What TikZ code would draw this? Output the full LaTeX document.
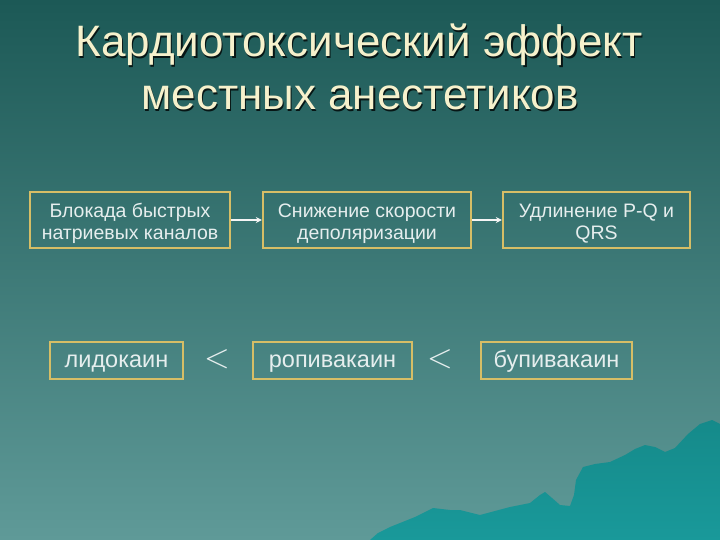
\documentclass[tikz,border=0pt]{standalone}
\usepackage{fontspec}
\usepackage{graphicx}
\setmainfont{Liberation Sans}
\usetikzlibrary{arrows.meta}
\definecolor{bgtop}{HTML}{1C5956}
\definecolor{bgbot}{HTML}{5F9A98}
\definecolor{titlecol}{HTML}{F6F1CC}
\definecolor{boxline}{HTML}{D6BE66}
\definecolor{txtcol}{HTML}{E6EEEE}
\definecolor{mount}{HTML}{19999A}
\definecolor{mountdark}{HTML}{158A8A}
\tikzset{
  box/.style={draw=boxline, line width=2.4pt, inner sep=0pt},
  boxtxt/.style={text=txtcol, align=center, inner sep=0pt, font=\fontsize{19.5}{22}\selectfont},
  drug/.style={draw=boxline, line width=2.4pt, text=txtcol, inner sep=0pt,
    text height=16pt, text depth=2pt, font=\fontsize{23.5}{26}\selectfont},
  arr/.style={draw=white!92!gray, line width=1.8pt, -{Stealth[length=6pt,width=6pt]}},
  lt/.style={text=txtcol, inner sep=0pt},
  ttl/.style={text=titlecol, font=\fontsize{44}{50}\selectfont, inner sep=0pt, anchor=base},
  shd/.style={text=black!75!bgtop, font=\fontsize{44}{50}\selectfont, inner sep=0pt, anchor=base}
}
\begin{document}
\begin{tikzpicture}[x=1pt,y=-1pt]
\useasboundingbox (0,0) rectangle (720,540);
\shade[top color=bgtop, bottom color=bgbot] (0,0) rectangle (720,540);
% mountain
\shade[top color=mountdark, bottom color=mount, draw=none]
 (370,540) -- (378,533) -- (390,527) -- (400,523) -- (415,517) -- (433,508) -- (450,510) -- (460,510)
 -- (480,515) -- (495,511) -- (510,507) -- (530,503) -- (540,495) -- (545,492) -- (552,498) -- (560,505)
 -- (570,506) -- (574,495) -- (576,480) -- (583,467) -- (595,464) -- (610,462) -- (625,455) -- (635,449)
 -- (645,445) -- (655,447) -- (665,452) -- (675,448) -- (688,434) -- (700,424) -- (712,420) -- (720,424)
 -- (720,540) -- cycle;
% title
\node[shd] (s1) at (360.3,58.3) {Кардиотоксический эффект};
\node[shd] (s2) at (361.3,111.3) {местных анестетиков};
\node[ttl] (t1) at (359,57) {Кардиотоксический эффект};
\node[ttl] (t2) at (360,110) {местных анестетиков};
% top boxes
\node[box, minimum width=200pt, minimum height=56pt] (b1) at (130,220) {};
\node[box, minimum width=208pt, minimum height=56pt] (b2) at (367,220) {};
\node[box, minimum width=187pt, minimum height=56pt] (b3) at (596.5,220) {};
\node[boxtxt] (b1t) at (130,223.5) {Блокада быстрых\\натриевых каналов};
\node[boxtxt] (b2t) at (367,223.5) {Снижение скорости\\деполяризации};
\node[boxtxt] (b3t) at (596.5,223.5) {Удлинение P-Q и\\QRS};
\draw[arr] (b1) -- (b2);
\draw[arr] (b2) -- (b3);
% bottom boxes
\node[drug, minimum width=133pt, minimum height=37pt] (d1) at (116.5,360.5) {лидокаин};
\node[drug, minimum width=159pt, minimum height=37pt] (d2) at (332.5,360.5) {ропивакаин};
\node[drug, minimum width=151pt, minimum height=37pt] (d3) at (556.5,360.5) {бупивакаин};
\node[lt] (l1) at (217,359) {\scalebox{3.3}{$<$}};
\node[lt] (l2) at (440,359) {\scalebox{3.3}{$<$}};
\end{tikzpicture}
\end{document}
